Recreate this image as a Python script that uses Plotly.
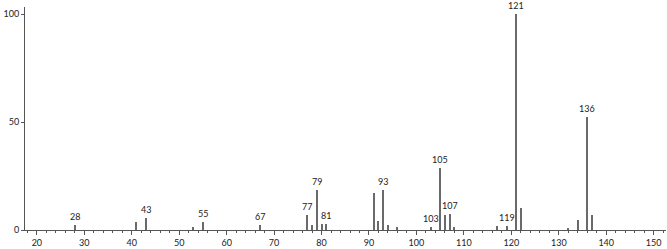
import plotly.graph_objects as go

mz = [28, 41, 43, 53, 55, 67, 77, 78, 79, 80, 81, 91, 92, 93, 94, 96, 103,
      105, 106, 107, 108, 117, 119, 121, 122, 132, 134, 136, 137]
intensity = [2.2, 3.9, 5.7, 1.6, 3.9, 2.5, 7.0, 2.2, 18.4, 2.6, 2.6, 17.2, 4.0,
             18.7, 2.5, 1.3, 1.3, 28.6, 6.9, 7.4, 1.4, 2.0, 2.0, 100, 10.1, 1.1,
             4.8, 52.3, 6.9]
labeled_peaks = [28, 43, 55, 67, 77, 79, 81, 93, 103, 105, 107, 119, 121, 136]

x_ticks = list(range(20, 151, 10))
y_ticks = [0, 50, 100]
y_tick_text = ["0", "50", "100"]

fig = go.Figure()
fig.add_trace(go.Bar(x=mz, y=intensity, width=0.22,
                     marker=dict(color="#6a6a6a", line=dict(width=0)),
                     hoverinfo="x+y"))

lookup = dict(zip(mz, intensity))
for p in labeled_peaks:
    fig.add_annotation(x=p, y=lookup[p], text=str(p), showarrow=False,
                       xanchor="center", yanchor="bottom", yshift=1,
                       font=dict(family="Lato", size=9, color="#222"))

fig.update_layout(
    width=667, height=249,
    margin=dict(l=25, r=1, t=7, b=16),
    paper_bgcolor="white", plot_bgcolor="white",
    showlegend=False, bargap=0,
    font=dict(family="Lato", size=9, color="#222"),
    xaxis=dict(range=[17.5, 152.6], tickmode="array", tickvals=x_ticks,
               showgrid=False, zeroline=False, showline=True, linecolor="#555",
               linewidth=1, ticks="outside", ticklen=4, tickcolor="#555",
               tickfont=dict(size=9), fixedrange=True,
               minor=dict(dtick=2, ticks="outside", ticklen=2, tickcolor="#555")),
    yaxis=dict(range=[0, 103.3], tickmode="array", tickvals=y_ticks,
               ticktext=y_tick_text, showgrid=False, zeroline=False,
               showline=True, linecolor="#555", linewidth=1, ticks="outside",
               ticklen=3, tickcolor="#555", tickfont=dict(size=9),
               fixedrange=True),
)

fig.write_html("out.html")
